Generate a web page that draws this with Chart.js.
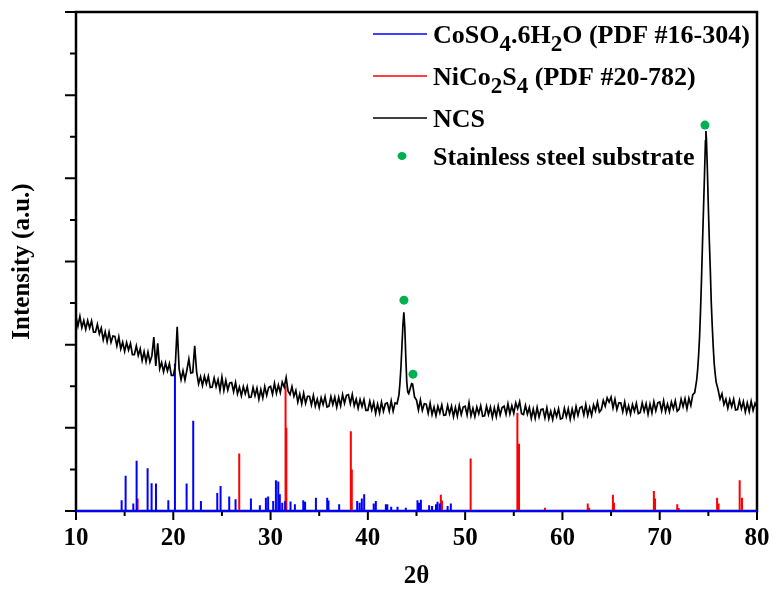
<!DOCTYPE html>
<html>
<head>
<meta charset="utf-8">
<script src="https://cdn.jsdelivr.net/npm/chart.js@4.4.1/dist/chart.umd.min.js"></script>
<style>
  html, body { margin: 0; padding: 0; background: #fff; }
  #wrap { width: 773px; height: 589px; position: relative; }
</style>
</head>
<body>
<div id="wrap"><canvas id="xrdChart"></canvas></div>
<script>
// NCS pattern, read every 0.2 degree from 10 to 80 (2theta)
const ncsStart = 10;
const ncsStep = 0.2;
const ncsIntensity = [
  4.67, 4.45, 4.68, 4.41, 4.58,  4.37, 4.58, 4.40, 4.57, 4.30,
  4.30, 4.49, 4.26, 4.40, 4.12,  4.31, 4.07, 4.30, 4.06, 4.21,
  4.20, 3.97, 4.19, 3.90, 4.06,  3.84, 4.05, 3.87, 4.03, 3.76,
  3.76, 3.97, 3.74, 3.90, 3.62,  3.83, 3.59, 3.82, 3.58, 3.73,
  4.18, 3.49, 4.03, 3.42, 3.57,  3.35, 3.56, 3.37, 3.54, 3.26,
  3.26, 3.47, 4.43, 3.42, 3.16,  3.37, 3.15, 3.39, 3.65, 3.32,
  3.33, 3.97, 3.34, 3.06, 3.23,  3.02, 3.24, 3.06, 3.24, 2.97,
  2.98, 3.20, 2.99, 3.16, 2.90,  3.22, 2.90, 3.14, 2.91, 3.08,
  3.09, 2.87, 3.09, 2.82, 2.98,  2.77, 2.99, 2.82, 2.99, 2.73,
  2.74, 2.97, 2.77, 2.95, 2.69,  2.92, 2.72, 2.99, 2.78, 2.97,
  3.00, 2.81, 3.07, 2.83, 3.03,  2.85, 3.10, 2.98, 3.21, 2.88,
  2.80, 2.99, 2.76, 2.90, 2.62,  2.81, 2.58, 2.83, 2.59, 2.76,
  2.76, 2.55, 2.78, 2.52, 2.69,  2.49, 2.72, 2.56, 2.75, 2.50,
  2.52, 2.75, 2.56, 2.74, 2.50,  2.73, 2.53, 2.80, 2.59, 2.78,
  2.80, 2.58, 2.80, 2.53, 2.69,  2.47, 2.68, 2.51, 2.68, 2.42,
  2.42, 2.64, 2.43, 2.61, 2.35,  2.57, 2.36, 2.62, 2.40, 2.58,
  2.60, 2.40, 2.65, 2.40, 2.60,  2.58, 2.80, 3.45, 4.45, 4.40,
  3.10, 2.82, 2.98, 3.05, 2.74,  2.67, 2.43, 2.67, 2.42, 2.58,
  2.57, 2.35, 2.59, 2.32, 2.50,  2.29, 2.52, 2.36, 2.55, 2.30,
  2.31, 2.54, 2.34, 2.52, 2.27,  2.49, 2.28, 2.54, 2.32, 2.50,
  2.52, 2.31, 2.60, 2.29, 2.47,  2.27, 2.50, 2.34, 2.53, 2.28,
  2.29, 2.52, 2.32, 2.50, 2.25,  2.48, 2.27, 2.53, 2.31, 2.49,
  2.52, 2.33, 2.58, 2.34, 2.53,  2.35, 2.60, 2.46, 2.63, 2.34,
  2.32, 2.54, 2.33, 2.49, 2.23,  2.45, 2.23, 2.49, 2.26, 2.44,
  2.45, 2.24, 2.48, 2.22, 2.40,  2.20, 2.43, 2.27, 2.46, 2.21,
  2.23, 2.47, 2.27, 2.46, 2.21,  2.45, 2.25, 2.51, 2.30, 2.48,
  2.51, 2.31, 2.56, 2.30, 2.49,  2.30, 2.55, 2.41, 2.62, 2.38,
  2.44, 2.66, 2.52, 2.72, 2.62,  2.74, 2.48, 2.69, 2.44, 2.60,
  2.60, 2.39, 2.62, 2.36, 2.53,  2.33, 2.56, 2.40, 2.59, 2.34,
  2.37, 2.60, 2.40, 2.58, 2.33,  2.57, 2.36, 2.63, 2.41, 2.60,
  2.62, 2.41, 2.65, 2.39, 2.57,  2.39, 2.62, 2.46, 2.65, 2.40,
  2.45, 2.69, 2.51, 2.70, 2.46,  2.71, 2.54, 2.80, 2.85, 3.15,
  3.75, 4.85, 6.45, 8.05, 8.95,  7.30, 5.80, 4.45, 3.55, 3.10,
  2.92, 2.69, 2.82, 2.56, 2.69,  2.47, 2.68, 2.51, 2.69, 2.43,
  2.44, 2.66, 2.46, 2.63, 2.38,  2.60, 2.39, 2.64, 2.42, 2.59,
  2.49
];

// extra readings on the two sharp substrate peaks
const ncsPeakTheta = [43.3, 43.5, 43.7, 43.9, 44.1, 44.5,
  73.9, 74.1, 74.3, 74.5, 74.7, 74.75, 74.9, 75.1, 75.3, 75.5, 75.7];
const ncsPeakIntensity = [3.08, 3.95, 4.78, 3.70, 2.86, 3.06,
  3.40, 4.20, 5.60, 7.25, 8.90, 9.14, 8.20, 6.50, 5.00, 3.95, 3.30];

// CoSO4.6H2O reference lines (PDF #16-304)
const coTheta = [14.69, 15.10, 15.89, 16.23, 17.36, 17.77, 18.22, 19.49, 20.17, 21.37,
  22.05, 22.84, 24.52, 24.86, 25.75, 26.40, 27.98, 28.90, 29.52, 29.75,
  30.27, 30.55, 30.79, 30.95, 31.20, 31.50, 32.05, 32.50, 33.36, 33.55,
  34.66, 35.82, 35.95, 37.05, 38.90, 39.15, 39.38, 39.62, 40.60, 40.82,
  41.85, 42.00, 42.40, 43.05, 43.90, 45.10, 45.30, 45.45, 46.30, 46.60,
  47.00, 47.16, 47.40, 48.20, 48.53];
const coHeight = [0.26, 0.85, 0.18, 1.21, 1.03, 0.67, 0.66, 0.26, 3.54, 0.66,
  2.17, 0.24, 0.43, 0.60, 0.35, 0.28, 0.30, 0.14, 0.32, 0.35,
  0.24, 0.74, 0.71, 0.40, 0.20, 0.24, 0.23, 0.16, 0.26, 0.22,
  0.32, 0.32, 0.25, 0.16, 0.24, 0.20, 0.30, 0.40, 0.18, 0.24,
  0.16, 0.16, 0.10, 0.10, 0.08, 0.26, 0.20, 0.27, 0.14, 0.12,
  0.16, 0.22, 0.18, 0.12, 0.18];

// NiCo2S4 reference lines (PDF #20-782)
const ncsRefTheta = [16.33, 26.78, 31.54, 31.62, 38.25, 38.35, 47.50, 47.62, 50.51, 50.60,
  55.37, 55.54, 58.20, 62.60, 62.75, 65.19, 65.30, 69.40, 69.52, 71.80,
  71.95, 75.90, 76.05, 78.22, 78.46];
const ncsRefHeight = [0.30, 1.38, 3.02, 2.00, 1.92, 1.00, 0.39, 0.25, 1.26, 0.75,
  2.36, 1.62, 0.08, 0.18, 0.08, 0.39, 0.20, 0.48, 0.30, 0.16,
  0.07, 0.32, 0.18, 0.74, 0.32];

// stainless steel substrate markers
const steelTheta = [43.71, 44.64, 74.65];
const steelMark = [5.07, 3.29, 9.28];

const legendRows = [
  { text: 'CoSO_4.6H_2O (PDF #16-304)', color: '#0000ff', kind: 'line' },
  { text: 'NiCo_2S_4 (PDF #20-782)', color: '#ff0000', kind: 'line' },
  { text: 'NCS', color: '#000000', kind: 'line' },
  { text: 'Stainless steel substrate', color: '#00b050', kind: 'dot' }
];

const serif = '"Liberation Serif", "Times New Roman", serif';

function sticks(theta, height) {
  const pts = [{ x: 10, y: 0 }];
  theta.forEach((t, i) => {
    pts.push({ x: t, y: 0 }, { x: t, y: height[i] }, { x: t, y: 0 });
  });
  pts.push({ x: 80, y: 0 });
  return pts;
}

const ncsPoints = ncsIntensity.map((v, i) => ({ x: +(ncsStart + i * ncsStep).toFixed(2), y: v }))
  .concat(ncsPeakTheta.map((t, i) => ({ x: t, y: ncsPeakIntensity[i] })))
  .sort((a, b) => a.x - b.x);

// frame + outward tick marks (major and minor)
const axesFrame = {
  id: 'axesFrame',
  beforeDatasetsDraw(chart) {
    const { ctx, chartArea: a, scales: { x, y } } = chart;
    ctx.save();
    ctx.strokeStyle = '#000';
    ctx.lineWidth = 2.5;
    ctx.strokeRect(a.left, a.top, a.right - a.left, a.bottom - a.top);
    ctx.lineWidth = 2;
    ctx.beginPath();
    for (let v = 10; v <= 80; v += 5) {
      const px = x.getPixelForValue(v);
      ctx.moveTo(px, a.bottom);
      ctx.lineTo(px, a.bottom + (v % 10 === 0 ? 9 : 5));
    }
    for (let v = 0; v <= 12; v++) {
      const py = y.getPixelForValue(v);
      ctx.moveTo(a.left, py);
      ctx.lineTo(a.left - (v % 2 === 0 ? 11 : 6), py);
    }
    ctx.stroke();
    ctx.restore();
  }
};

// legend with subscripts ("_" marks the next character as subscript)
const subLegend = {
  id: 'subLegend',
  afterDraw(chart) {
    const ctx = chart.ctx;
    const mainFont = 'bold 26px ' + serif;
    const subFont = 'bold 23px ' + serif;
    ctx.save();
    legendRows.forEach((row, i) => {
      const baseY = 43 + i * 42 - (i === 3 ? 4 : 0);
      const midY = baseY - 9;
      if (row.kind === 'line') {
        ctx.strokeStyle = row.color;
        ctx.lineWidth = 1.5;
        ctx.beginPath();
        ctx.moveTo(373, midY);
        ctx.lineTo(427, midY);
        ctx.stroke();
      } else {
        ctx.fillStyle = row.color;
        ctx.beginPath();
        ctx.ellipse(402, midY, 4.5, 4, 0, 0, Math.PI * 2);
        ctx.fill();
      }
      ctx.fillStyle = '#000';
      ctx.textBaseline = 'alphabetic';
      let x = 433;
      const s = row.text;
      for (let k = 0; k < s.length; k++) {
        if (s[k] === '_') {
          k++;
          ctx.font = subFont;
          ctx.fillText(s[k], x, baseY + 8);
          x += ctx.measureText(s[k]).width;
        } else {
          ctx.font = mainFont;
          ctx.fillText(s[k], x, baseY);
          x += ctx.measureText(s[k]).width;
        }
      }
    });
    ctx.restore();
  }
};

new Chart(document.getElementById('xrdChart').getContext('2d'), {
  type: 'line',
  data: {
    datasets: [
      {
        label: 'Stainless steel substrate',
        data: steelTheta.map((t, i) => ({ x: t, y: steelMark[i] })),
        showLine: false,
        pointRadius: 4.5,
        pointBorderWidth: 0,
        pointBackgroundColor: '#00b050',
        order: 0
      },
      {
        label: 'NCS',
        data: ncsPoints,
        borderColor: '#000000',
        borderWidth: 1.7,
        pointRadius: 0,
        tension: 0,
        order: 1
      },
      {
        label: 'CoSO4.6H2O (PDF #16-304)',
        data: sticks(coTheta, coHeight),
        borderColor: '#0000ff',
        borderWidth: 2,
        pointRadius: 0,
        tension: 0,
        clip: false,
        order: 2
      },
      {
        label: 'NiCo2S4 (PDF #20-782)',
        data: sticks(ncsRefTheta, ncsRefHeight),
        borderColor: '#ff0000',
        borderWidth: 2,
        pointRadius: 0,
        tension: 0,
        order: 3
      }
    ]
  },
  options: {
    responsive: true,
    maintainAspectRatio: false,
    animation: false,
    layout: { padding: { top: 12, right: 16, left: 0, bottom: 0 } },
    plugins: {
      legend: { display: false },
      tooltip: { enabled: false }
    },
    scales: {
      x: {
        type: 'linear',
        min: 10,
        max: 80,
        ticks: {
          stepSize: 10,
          maxRotation: 0,
          color: '#000',
          padding: 13,
          font: { family: serif, size: 25, weight: 'bold' }
        },
        grid: { display: false, drawTicks: false },
        border: { display: false },
        title: {
          display: true,
          text: '2θ',
          color: '#000',
          padding: 0,
          font: { family: serif, size: 25, weight: 'bold', lineHeight: 1 }
        },
        afterFit: (s) => {
          s.height = 78;
          s.paddingLeft = 0;
          s.paddingRight = 0;
        }
      },
      y: {
        min: 0,
        max: 12,
        ticks: { display: false, stepSize: 1 },
        grid: { display: false, drawTicks: false },
        border: { display: false },
        title: {
          display: true,
          text: 'Intensity (a.u.)',
          color: '#000',
          padding: { top: 10, bottom: 0 },
          font: { family: serif, size: 25, weight: 'bold', lineHeight: 1 }
        },
        afterFit: (s) => {
          s.width = 76;
          s.paddingTop = 0;
          s.paddingBottom = 0;
        }
      }
    }
  },
  plugins: [axesFrame, subLegend]
});
</script>
</body>
</html>
